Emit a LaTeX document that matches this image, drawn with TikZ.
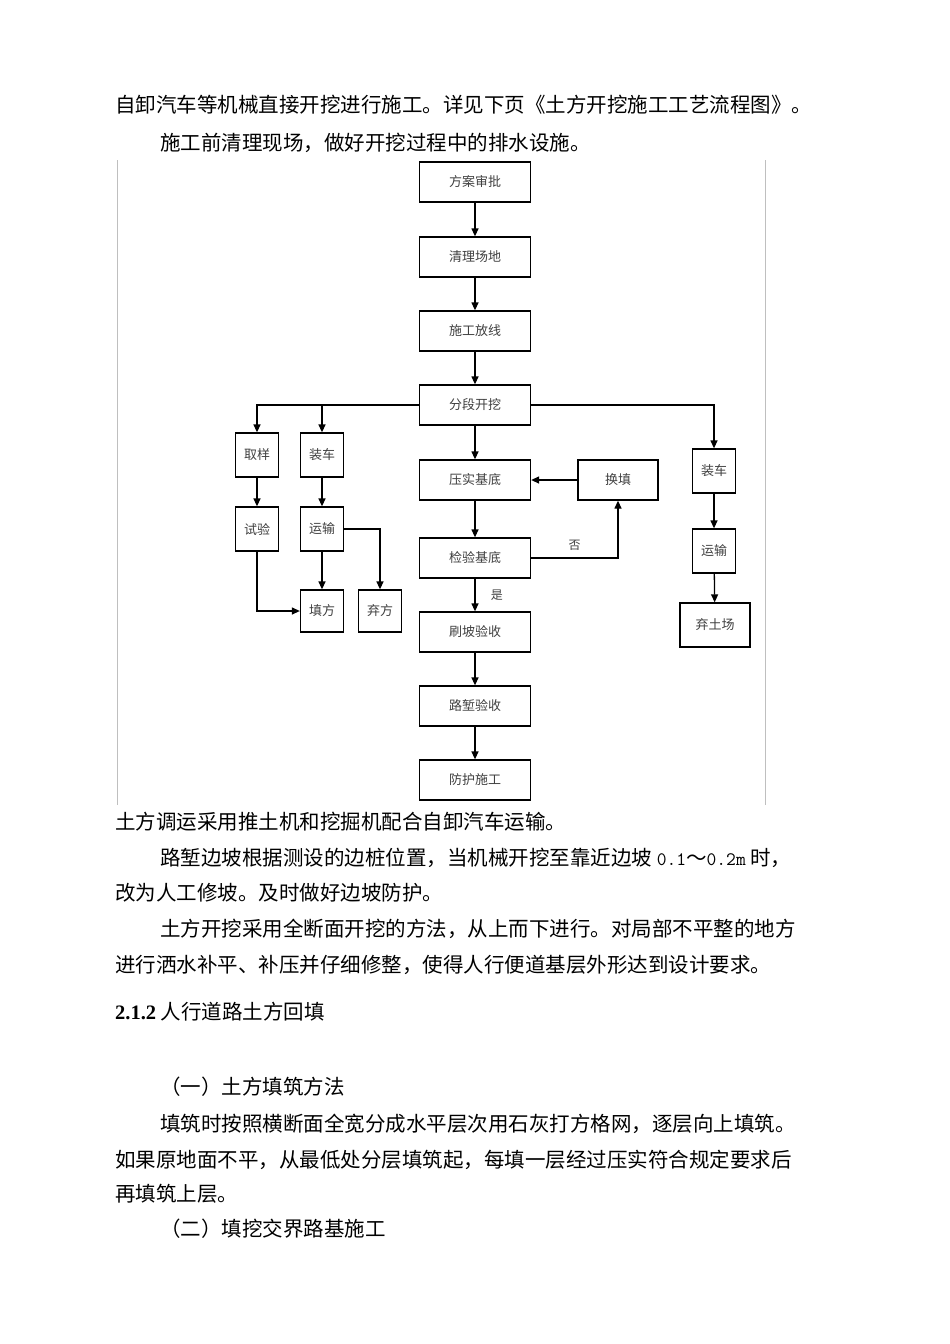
\documentclass[tikz,border=0pt]{standalone}
\usepackage{fontspec}
\setmainfont{Liberation Serif}
\newfontfamily\cjk{Noto Sans CJK SC}
\usetikzlibrary{arrows.meta}
\begin{document}
\begin{tikzpicture}[x=1pt,y=-1pt,
  box/.style={draw,line width=1.3pt,minimum width=111pt,minimum height=40pt,inner sep=0pt,font=\cjk\fontsize{13}{13}\selectfont,text=black!75},
  sbox/.style={box,minimum width=43pt,minimum height=44pt},
  arr/.style={line width=1.3pt,-{Triangle[length=8pt,width=7pt]}},
  ln/.style={line width=1.3pt},
  para/.style={anchor=west,inner sep=0pt,font=\cjk\fontsize{20.5}{20.5}\selectfont}]
\useasboundingbox (0,0) rectangle (950,1344);
\fill[white] (0,0) rectangle (950,1344);
\draw[black!25,line width=0.6pt] (117,160) -- (117,805) (765,160) -- (765,805);
% text
\node[para] (t1) at (115,105) {自卸汽车等机械直接开挖进行施工。详见下页《土方开挖施工工艺流程图》。};
\node[para] (t2) at (160,143) {施工前清理现场，做好开挖过程中的排水设施。};
\node[para] (t3) at (115,822) {土方调运采用推土机和挖掘机配合自卸汽车运输。};
\node[para] (t4) at (160,858) {路堑边坡根据测设的边桩位置，当机械开挖至靠近边坡 {\ttfamily\fontsize{19}{19}\selectfont 0.1}～{\ttfamily\fontsize{19}{19}\selectfont 0.2m} 时，};
\node[para] (t5) at (115,893) {改为人工修坡。及时做好边坡防护。};
\node[para] (t6) at (160,929) {土方开挖采用全断面开挖的方法，从上而下进行。对局部不平整的地方};
\node[para] (t7) at (115,965) {进行洒水补平、补压并仔细修整，使得人行便道基层外形达到设计要求。};
\node[para] (t8) at (115,1012) {{\rmfamily\bfseries 2.1.2} 人行道路土方回填};
\node[para] (t9) at (160,1087) {（一）土方填筑方法};
\node[para] (t10) at (160,1124) {填筑时按照横断面全宽分成水平层次用石灰打方格网，逐层向上填筑。};
\node[para] (t11) at (115,1160) {如果原地面不平，从最低处分层填筑起，每填一层经过压实符合规定要求后};
\node[para] (t12) at (115,1194) {再填筑上层。};
\node[para] (t13) at (160,1229) {（二）填挖交界路基施工};
% boxes
\node[box] (a) at (475,182) {方案审批};
\node[box] (b) at (475,257) {清理场地};
\node[box] (c) at (475,331) {施工放线};
\node[box] (d) at (475,405) {分段开挖};
\node[box] (e) at (475,480) {压实基底};
\node[box,minimum width=80pt] (hf) at (618,480) {换填};
\node[box] (f) at (475,558) {检验基底};
\node[box] (g) at (475,632) {刷坡验收};
\node[box] (h) at (475,706) {路堑验收};
\node[box] (i) at (475,780) {防护施工};
\node[sbox] (qy) at (257,455) {取样};
\node[sbox] (zc) at (322,455) {装车};
\node[sbox] (sy) at (257,529) {试验};
\node[sbox] (ys) at (322,529) {运输};
\node[sbox,minimum height=42pt] (tf) at (322,611) {填方};
\node[sbox,minimum height=42pt] (qf) at (380,611) {弃方};
\node[sbox] (zc2) at (714,471) {装车};
\node[sbox] (ys2) at (714,551) {运输};
\node[sbox,minimum width=70pt] (qt) at (715,625) {弃土场};
% arrows
\draw[arr] (a) -- (b);
\draw[arr] (b) -- (c);
\draw[arr] (c) -- (d);
\draw[arr] (d) -- (e);
\draw[arr] (e) -- (f);
\draw[arr] (f) -- (g) node[midway,right=12pt,font=\cjk\fontsize{12}{12}\selectfont,text=black!75] {是};
\draw[arr] (g) -- (h);
\draw[arr] (h) -- (i);
\draw[arr] (hf) -- (e);
\draw[arr] (f.east) -- (618,558) node[pos=0.5,above=4pt,font=\cjk\fontsize{12}{12}\selectfont,text=black!75] {否} -- (hf.south);
\draw[arr] (d.west) -| (qy.north);
\draw[arr] (322,405) -- (zc.north);
\draw[arr] (d.east) -| (zc2.north);
\draw[arr] (qy) -- (sy);
\draw[arr] (zc) -- (ys);
\draw[arr] (ys) -- (tf);
\draw[arr] (ys.east) -| (qf.north);
\draw[arr] (sy.south) |- (tf.west);
\draw[arr] (zc2) -- (ys2);
\draw[arr] (ys2) -- (qt);
\end{tikzpicture}
\end{document}
